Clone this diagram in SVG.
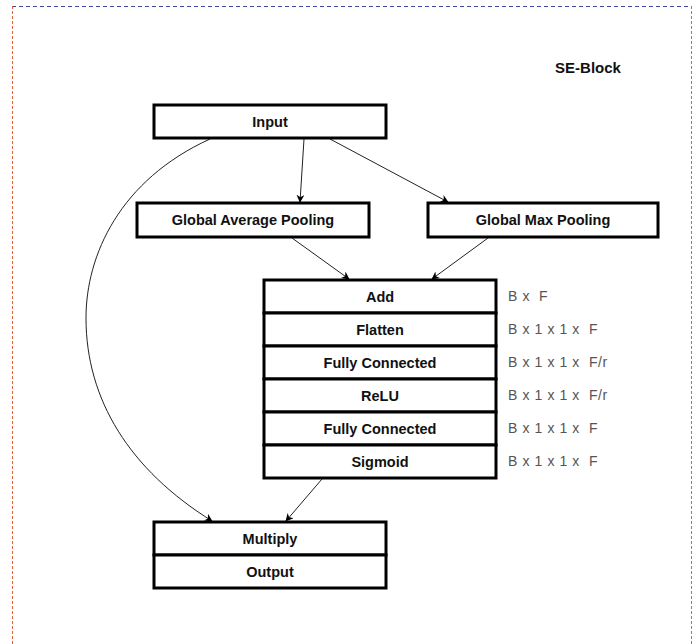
<svg xmlns="http://www.w3.org/2000/svg" width="698" height="644" viewBox="0 0 698 644">
<defs>
<style>
.box{fill:#fff;stroke:#000;stroke-width:3}
.lbl{font-family:"Liberation Sans",Arial,sans-serif;font-size:14.5px;font-weight:bold;fill:#111;text-anchor:middle;dominant-baseline:central}
.dim{font-family:"Liberation Sans",Arial,sans-serif;font-size:14px;fill:#555;letter-spacing:0.6px;white-space:pre;dominant-baseline:central}
.edge{fill:none;stroke:#222;stroke-width:1}
</style>
<marker id="ah" viewBox="0 0 10 10" refX="9" refY="5" markerWidth="8" markerHeight="8" markerUnits="userSpaceOnUse" orient="auto">
<path d="M0,0 L10,5 L0,10 L3,5 Z" fill="#000"/>
</marker>
</defs>
<rect x="0" y="0" width="698" height="644" fill="#fff"/>
<line x1="12" y1="6.5" x2="692" y2="6.5" stroke="#3b4a9a" stroke-width="1" stroke-dasharray="4,3"/>
<line x1="12.5" y1="6" x2="12.5" y2="644" stroke="#e0603a" stroke-width="1" stroke-dasharray="3,2"/>
<line x1="691.5" y1="6" x2="691.5" y2="644" stroke="#e0603a" stroke-width="1" stroke-dasharray="3,2"/>
<text x="588" y="67" class="lbl" style="font-size:15px">SE-Block</text>
<g id="connectors">
<path class="edge" d="M304,139 L300,202" marker-end="url(#ah)"/>
<path class="edge" d="M330,139 L448,202" marker-end="url(#ah)"/>
<path class="edge" d="M292,238 L349,279" marker-end="url(#ah)"/>
<path class="edge" d="M488,238 L432,279" marker-end="url(#ah)"/>
<path class="edge" d="M322,479 L286,521" marker-end="url(#ah)"/>
<path class="edge" d="M210,139 C120,180 86,255 86,318 C86,400 130,470 212,521" marker-end="url(#ah)"/>
</g>
<g id="input"><rect class="box" x="154" y="105" width="232" height="33"/><text class="lbl" x="270" y="122">Input</text></g>
<g id="gap"><rect class="box" x="137" y="203" width="232" height="34"/><text class="lbl" x="253" y="220">Global Average Pooling</text></g>
<g id="gmp"><rect class="box" x="428" y="203" width="230" height="34"/><text class="lbl" x="543" y="220">Global Max Pooling</text></g>
<g id="add"><rect class="box" x="264" y="280" width="232" height="33"/><text class="lbl" x="380" y="296.5">Add</text></g>
<g id="flatten"><rect class="box" x="264" y="313" width="232" height="33"/><text class="lbl" x="380" y="329.5">Flatten</text></g>
<g id="fc1"><rect class="box" x="264" y="346" width="232" height="33"/><text class="lbl" x="380" y="362.5">Fully Connected</text></g>
<g id="relu"><rect class="box" x="264" y="379" width="232" height="33"/><text class="lbl" x="380" y="395.5">ReLU</text></g>
<g id="fc2"><rect class="box" x="264" y="412" width="232" height="33"/><text class="lbl" x="380" y="428.5">Fully Connected</text></g>
<g id="sigmoid"><rect class="box" x="264" y="445" width="232" height="33"/><text class="lbl" x="380" y="461.5">Sigmoid</text></g>
<g id="multiply"><rect class="box" x="154" y="522" width="232" height="33"/><text class="lbl" x="270" y="538.5">Multiply</text></g>
<g id="output"><rect class="box" x="154" y="555" width="232" height="33"/><text class="lbl" x="270" y="571.5">Output</text></g>
<g id="dims">
<text class="dim" x="508" y="296">B x  F</text>
<text class="dim" x="508" y="329">B x 1 x 1 x  F</text>
<text class="dim" x="508" y="362">B x 1 x 1 x  F/r</text>
<text class="dim" x="508" y="395">B x 1 x 1 x  F/r</text>
<text class="dim" x="508" y="428">B x 1 x 1 x  F</text>
<text class="dim" x="508" y="461">B x 1 x 1 x  F</text>
</g>
</svg>
